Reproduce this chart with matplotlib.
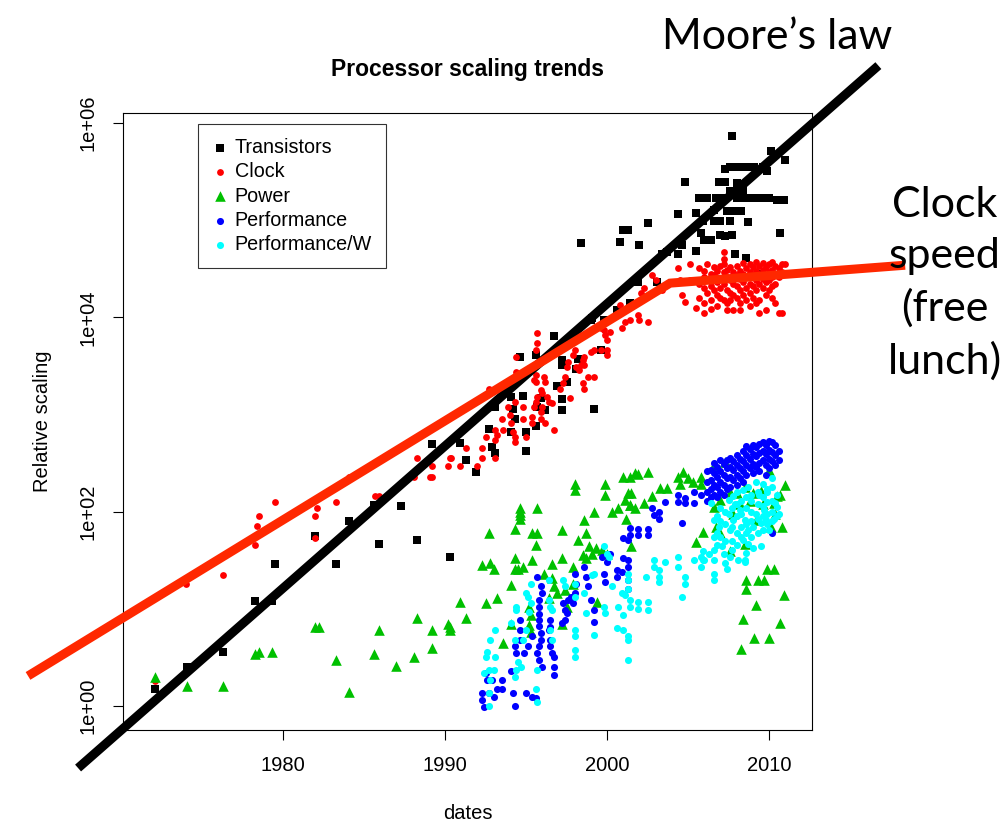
import numpy as np
import matplotlib
matplotlib.use("Agg")
import matplotlib.pyplot as plt
from matplotlib.ticker import FixedLocator, NullLocator

plt.rcParams['font.family'] = ['Liberation Sans', 'DejaVu Sans']

# (year, relative value) readings for each processor series
transistors = [
    (1972.1, 1.5), (1974.1, 2.5), (1976.3, 3.6), (1978.3, 12), (1979.3, 12),
    (1979.5, 29), (1982.0, 56), (1983.3, 29), (1984.1, 81), (1985.9, 46),
    (1985.6, 117), (1987.3, 114), (1988.3, 51), (1989.2, 500), (1990.3, 34),
    (1990.9, 510), (1991.3, 340), (1991.9, 256), (1992.7, 710), (1992.9, 465),
    (1993.1, 405), (1993.1, 1200), (1994.1, 1520), (1994.2, 1130), (1994.3, 910),
    (1994.1, 660), (1994.6, 3900), (1994.8, 1550), (1995.0, 660), (1995.0, 425),
    (1995.6, 760), (1995.7, 1200), (1995.6, 4100), (1995.9, 1470), (1996.2, 1110),
    (1996.7, 6400), (1996.9, 1950), (1997.2, 3600), (1997.2, 3200), (1997.2, 1460),
    (1997.2, 1110), (1997.5, 2180), (1998.2, 3770), (1998.1, 2970), (1999.0, 9300),
    (1999.2, 1130), (1999.6, 4600), (1999.8, 9300), (1998.4, 5.8e4), (1999.1, 9800),
    (1999.9, 9300), (2000.6, 1.2e4), (2001.4, 1.4e4), (2001.9, 2.3e4), (2003.1, 2.3e4),
    (2000.8, 6.0e4), (2001.0, 7.9e4), (2001.3, 7.9e4), (2002.0, 5.5e4), (2002.5, 9.4e4),
    (2003.4, 4.5e4), (2003.7, 4.7e4), (2004.4, 4.5e4), (2004.6, 5.5e4), (2004.4, 1.17e5),
    (2004.8, 2.5e5), (2005.5, 1.2e5), (2005.5, 4.8e4), (2005.8, 7.3e4), (2005.9, 9.8e4),
    (2006.0, 6.3e4), (2006.4, 6.2e4), (2006.6, 1.27e5), (2006.6, 9.8e4), (2007.0, 9.8e4),
    (2007.0, 7.0e4), (2007.3, 6.8e4), (2007.6, 9.8e4), (2007.7, 7.1e4), (2007.4, 1.24e5),
    (2007.8, 1.24e5), (2008.3, 1.24e5), (2008.7, 9.6e4), (2007.9, 4.5e4), (2008.6, 4.1e4),
    (2009.3, 2.8e4), (2010.7, 7.4e4), (2005.7, 1.7e5), (2006.2, 1.7e5), (2006.7, 1.7e5),
    (2007.2, 1.7e5), (2006.9, 2.5e5), (2007.3, 2.5e5), (2008.0, 2.4e5), (2007.6, 2.0e5),
    (2008.4, 2.0e5), (2008.0, 1.7e5), (2008.5, 1.7e5), (2009.0, 1.7e5), (2009.5, 1.7e5),
    (2010.0, 1.7e5), (2010.5, 1.6e5), (2010.9, 1.6e5), (2009.9, 3.2e5), (2007.3, 3.4e5),
    (2007.6, 3.5e5), (2008.1, 3.5e5), (2008.6, 3.5e5), (2009.1, 3.5e5), (2009.6, 3.5e5),
    (2007.7, 7.3e5), (2010.1, 5.1e5), (2011.0, 4.2e5),
]

clock = [
    (1972.1, 1.8), (1974.0, 18), (1976.3, 22.5), (1978.3, 45), (1978.4, 72),
    (1978.5, 90), (1979.3, 72), (1979.5, 125), (1982.0, 54), (1982.0, 90),
    (1982.1, 108), (1983.3, 125), (1984.1, 225), (1985.7, 145), (1985.9, 145),
    (1988.1, 225), (1988.3, 360), (1989.2, 296), (1989.2, 225), (1990.2, 296),
    (1990.4, 360), (1989.1, 225), (1990.3, 360), (1990.9, 296), (1991.3, 450),
    (1992.0, 296), (1992.3, 450), (1992.3, 360), (1992.5, 590), (1993.1, 690),
    (1993.2, 620), (1993.1, 550), (1993.1, 360), (1992.7, 1850), (1993.5, 890),
    (1993.6, 690), (1993.9, 1200), (1994.0, 1000), (1994.1, 810), (1994.2, 660),
    (1994.3, 590), (1994.3, 525), (1994.3, 1350), (1994.4, 2750), (1994.4, 3900),
    (1994.8, 1200), (1994.8, 910), (1995.0, 590), (1995.4, 950), (1995.4, 810),
    (1995.5, 1200), (1995.6, 1350), (1995.7, 1520), (1995.6, 2180), (1995.5, 2250),
    (1995.6, 2570), (1995.6, 4600), (1995.7, 5400), (1995.7, 6900), (1995.9, 1780),
    (1996.0, 1660), (1996.0, 1200), (1995.9, 1070), (1995.9, 910), (1996.1, 2450),
    (1996.2, 2180), (1996.3, 1520), (1996.4, 1350), (1996.2, 810), (1996.7, 690),
    (1996.6, 1300), (1997.1, 1850), (1997.3, 2100), (1997.4, 2450), (1997.5, 3100),
    (1997.6, 3500), (1997.7, 1470), (1997.9, 4100), (1998.0, 4600), (1998.1, 3100),
    (1998.3, 2880), (1998.4, 3240), (1998.5, 3630), (1998.6, 3900), (1998.6, 3240),
    (1998.5, 2100), (1998.6, 1820), (1998.8, 2450), (1999.2, 2450), (1999.0, 4400),
    (1999.2, 4600), (1999.6, 4600), (1999.8, 7400), (1999.9, 6600), (2000.0, 5900),
    (2000.0, 4600), (2000.0, 4100), (1999.6, 7700), (2000.2, 7100), (2000.9, 7700),
    (2001.1, 8900), (2001.4, 9300), (2001.9, 1.05e4), (2002.0, 9300), (2002.5, 8900),
    (2000.8, 1.35e4), (2001.6, 1.38e4), (2002.1, 1.8e4), (2002.3, 2.0e4), (2002.8, 2.7e4),
    (2003.0, 2.4e4), (2003.4, 1.9e4), (2004.4, 3.2e4), (2004.5, 2.4e4), (2004.6, 1.7e4),
    (2004.8, 1.45e4), (2005.1, 3.5e4), (2005.1, 2.4e4), (2005.5, 1.26e4), (2006.0, 1.1e4),
    (2006.4, 1.23e4),
    (2005.7, 3.2e4), (2005.7, 2.2e4), (2005.7, 1.6e4),
    (2006.0, 3.0e4), (2006.0, 2.6e4), (2006.0, 2.0e4), (2006.0, 1.4e4),
    (2006.2, 3.5e4), (2006.2, 2.4e4), (2006.2, 1.8e4),
    (2006.4, 2.8e4), (2006.4, 2.1e4), (2006.4, 1.5e4),
    (2006.6, 3.3e4), (2006.6, 2.7e4), (2006.6, 1.9e4),
    (2006.8, 3.0e4), (2006.8, 2.3e4), (2006.8, 1.7e4), (2006.8, 1.3e4),
    (2007.0, 3.4e4), (2007.0, 2.5e4), (2007.0, 2.0e4), (2007.0, 1.6e4),
    (2007.2, 4.7e4), (2007.2, 4.0e4), (2007.2, 3.5e4), (2007.2, 2.9e4), (2007.2, 2.2e4), (2007.2, 1.5e4),
    (2007.4, 3.1e4), (2007.4, 2.6e4), (2007.4, 1.9e4), (2007.4, 1.4e4), (2007.4, 1.2e4),
    (2007.6, 3.3e4), (2007.6, 2.4e4), (2007.6, 1.8e4), (2007.6, 1.5e4),
    (2007.8, 2.9e4), (2007.8, 2.2e4), (2007.8, 1.7e4), (2007.8, 1.2e4),
    (2008.0, 3.4e4), (2008.0, 2.7e4), (2008.0, 2.1e4), (2008.0, 1.6e4),
    (2008.2, 3.0e4), (2008.2, 2.5e4), (2008.2, 1.9e4), (2008.2, 1.4e4), (2008.2, 1.2e4),
    (2008.4, 3.6e4), (2008.4, 2.8e4), (2008.4, 2.3e4), (2008.4, 1.7e4),
    (2008.6, 3.2e4), (2008.6, 2.6e4), (2008.6, 2.0e4), (2008.6, 1.5e4),
    (2008.8, 3.5e4), (2008.8, 2.9e4), (2008.8, 2.2e4), (2008.8, 1.8e4), (2008.8, 1.3e4),
    (2009.0, 3.3e4), (2009.0, 2.7e4), (2009.0, 2.1e4), (2009.0, 1.6e4),
    (2009.2, 3.7e4), (2009.2, 3.0e4), (2009.2, 2.4e4), (2009.2, 1.9e4), (2009.2, 1.4e4),
    (2009.4, 3.4e4), (2009.4, 2.8e4), (2009.4, 2.2e4), (2009.4, 1.5e4), (2009.4, 1.1e4),
    (2009.6, 3.6e4), (2009.6, 3.1e4), (2009.6, 2.5e4), (2009.6, 2.0e4),
    (2009.8, 3.3e4), (2009.8, 2.7e4), (2009.8, 2.3e4), (2009.8, 1.7e4), (2009.8, 1.2e4),
    (2010.0, 3.5e4), (2010.0, 2.9e4), (2010.0, 2.4e4), (2010.0, 1.9e4),
    (2010.2, 3.7e4), (2010.2, 3.1e4), (2010.2, 2.6e4), (2010.2, 2.1e4), (2010.2, 1.6e4),
    (2010.4, 3.4e4), (2010.4, 2.8e4), (2010.4, 2.2e4), (2010.4, 1.4e4),
    (2010.6, 3.2e4), (2010.6, 2.6e4), (2010.6, 1.1e4),
    (2010.8, 3.5e4), (2010.8, 2.9e4), (2010.8, 1.1e4), (2011.0, 3.5e4),
]

power = [
    (1972.1, 2.0), (1974.1, 1.6), (1976.3, 1.6), (1978.3, 3.4), (1978.5, 3.6),
    (1979.3, 3.6), (1982.0, 6.5), (1982.2, 6.5), (1983.3, 3.0), (1984.1, 1.4),
    (1985.6, 3.4), (1985.9, 6.0), (1987.0, 2.6), (1988.1, 3.2), (1988.3, 8.0),
    (1989.2, 6.0), (1989.2, 4.0), (1990.2, 7.0), (1990.3, 6.0), (1990.3, 6.5),
    (1990.9, 11.8), (1991.3, 8.0), (1992.3, 28), (1992.8, 29.5), (1993.0, 26),
    (1992.5, 11.4), (1993.2, 12.8), (1992.7, 60), (1994.1, 7.0), (1993.6, 4.4),
    (1994.1, 17.6), (1994.3, 26), (1994.3, 33), (1994.3, 66), (1994.6, 108),
    (1994.6, 100), (1994.6, 92), (1994.6, 85), (1995.7, 108), (1995.4, 60),
    (1995.7, 60), (1995.6, 45), (1994.8, 27), (1995.4, 32), (1994.5, 26),
    (1996.1, 23), (1995.2, 10.5), (1995.3, 8.7), (1995.2, 6.8), (1995.3, 5.8),
    (1996.4, 13), (1996.7, 17), (1996.6, 21), (1997.2, 65), (1996.6, 29),
    (1997.2, 33), (1996.9, 14.5), (1997.4, 15.6), (1997.5, 10.5), (1997.2, 7.0),
    (1998.0, 195), (1998.0, 167), (1997.9, 27), (1997.9, 18), (1998.2, 51),
    (1998.6, 82), (1998.7, 60), (1998.5, 36), (1998.7, 33), (1999.2, 100),
    (1998.9, 44), (1999.3, 42), (1999.1, 37), (1999.4, 11.8), (1999.9, 195),
    (1999.9, 148), (1999.7, 40), (2000.0, 37), (2000.3, 100), (2000.7, 108),
    (2001.1, 132), (2001.4, 117), (2001.3, 155), (2001.4, 230), (2001.0, 230),
    (2001.7, 250), (2001.2, 85), (2001.5, 44), (2001.9, 245), (2002.5, 257),
    (2001.5, 155), (2002.3, 122), (2002.8, 144), (2003.3, 175), (2003.7, 175),
    (2001.4, 117), (2001.7, 108), (2004.4, 230), (2004.7, 257), (2004.5, 195),
    (2005.0, 220), (2005.3, 204), (2005.8, 230), (2005.8, 195), (2006.6, 300),
    (2007.3, 325), (2007.0, 132), (2006.6, 112), (2007.6, 160), (2008.0, 155),
    (2008.5, 180), (2009.0, 155), (2009.5, 165), (2010.0, 270), (2010.5, 144),
    (2011.0, 188), (2010.3, 122), (2010.7, 148), (2005.5, 49), (2005.9, 62),
    (2006.7, 70), (2007.0, 60), (2007.6, 39), (2008.5, 47), (2009.2, 82),
    (2010.1, 70), (2010.8, 70), (2009.9, 26), (2010.3, 26), (2008.6, 20),
    (2009.3, 20), (2009.7, 20), (2008.6, 16), (2010.9, 13.8), (2009.2, 11),
    (2008.4, 7.9), (2010.7, 7.2), (2009.1, 5.0), (2010.0, 5.0), (2008.3, 3.9),
    (2008.2, 120), (2008.8, 130), (2009.6, 120), (2010.4, 95), (2007.8, 95),
]

performance = [
    (1992.4, 0.98), (1992.3, 1.35), (1992.3, 1.15), (1992.5, 2.2), (1992.6, 1.85),
    (1992.9, 1.85), (1993.0, 1.25), (1993.2, 1.5), (1993.5, 1.85), (1993.5, 1.5),
    (1992.7, 1.35), (1994.1, 2.3), (1994.2, 1.35), (1994.3, 1.0), (1994.4, 3.5),
    (1994.3, 4.1), (1994.6, 4.8), (1994.6, 6.0), (1994.6, 7.7), (1994.9, 3.5),
    (1995.1, 4.1), (1995.4, 5.2), (1995.0, 1.35), (1995.4, 1.25), (1995.6, 1.2),
    (1995.8, 12.3), (1995.8, 10.5), (1995.8, 8.9), (1995.8, 7.7), (1995.8, 6.6),
    (1995.9, 5.6), (1995.9, 4.8), (1995.8, 4.1), (1995.7, 3.5), (1995.8, 3.0),
    (1996.0, 2.5), (1995.7, 21.5), (1995.9, 17), (1996.0, 14.5), (1996.4, 6.0),
    (1996.5, 4.8), (1996.5, 4.1), (1996.6, 3.5), (1996.5, 6.5), (1996.5, 7.7),
    (1996.7, 3.2), (1996.7, 2.5), (1996.7, 2.1), (1997.3, 11.4), (1997.4, 9.8),
    (1997.5, 9.0), (1997.6, 12.3), (1997.8, 13.3), (1997.9, 11.4), (1997.2, 7.1),
    (1997.4, 7.7), (1998.0, 23), (1998.1, 18), (1998.0, 14.5), (1998.6, 27),
    (1998.7, 21.5), (1998.8, 17), (1999.0, 12.3), (1999.2, 9.8), (1999.2, 7.4),
    (1999.7, 34.5), (1999.8, 23), (1999.9, 19), (2000.0, 30), (2000.2, 37),
    (2000.6, 25), (2000.6, 21.5), (2001.0, 33), (2000.9, 24), (2001.0, 53),
    (2001.3, 51), (2001.4, 68), (2001.4, 58), (2001.3, 32), (2001.3, 27),
    (2001.3, 20), (2001.3, 16), (2002.8, 108), (2003.2, 100), (2003.2, 85),
    (2002.9, 93), (2001.9, 67), (2002.5, 67), (2001.9, 57), (2002.5, 57),
    (2003.6, 126), (2004.4, 148), (2004.4, 126), (2004.8, 138), (2004.8, 122),
    (2004.6, 77), (2005.4, 160), (2005.4, 122), (2005.8, 148), (2010.2, 61),
    (2006.2, 260), (2006.2, 200), (2006.2, 160), (2006.2, 130),
    (2006.4, 270), (2006.4, 210), (2006.4, 170), (2006.4, 140),
    (2006.6, 320), (2006.6, 250), (2006.6, 190), (2006.6, 150),
    (2006.8, 290), (2006.8, 230), (2006.8, 180), (2006.8, 140),
    (2007.0, 340), (2007.0, 260), (2007.0, 200), (2007.0, 160),
    (2007.2, 310), (2007.2, 240), (2007.2, 190), (2007.2, 150),
    (2007.4, 340), (2007.4, 280), (2007.4, 220), (2007.4, 170),
    (2007.6, 360), (2007.6, 290), (2007.6, 230), (2007.6, 180),
    (2007.8, 330), (2007.8, 270), (2007.8, 210),
    (2008.0, 380), (2008.0, 300), (2008.0, 240), (2008.0, 190),
    (2008.2, 350), (2008.2, 280), (2008.2, 220),
    (2008.4, 420), (2008.4, 330), (2008.4, 260), (2008.4, 200),
    (2008.6, 470), (2008.6, 380), (2008.6, 300), (2008.6, 240),
    (2008.8, 440), (2008.8, 350), (2008.8, 280),
    (2009.0, 480), (2009.0, 390), (2009.0, 310), (2009.0, 250),
    (2009.2, 460), (2009.2, 370), (2009.2, 290),
    (2009.4, 500), (2009.4, 400), (2009.4, 320), (2009.4, 260),
    (2009.6, 520), (2009.6, 420), (2009.6, 340),
    (2009.8, 490), (2009.8, 390), (2009.8, 300), (2009.8, 240),
    (2010.0, 540), (2010.0, 430), (2010.0, 350), (2010.0, 280),
    (2010.2, 520), (2010.2, 410), (2010.2, 330),
    (2010.4, 480), (2010.4, 380), (2010.4, 300),
    (2010.6, 420), (2010.6, 340),
]

perf_per_watt = [
    (1992.4, 2.2), (1992.5, 3.2), (1992.6, 3.6), (1992.7, 2.35), (1992.8, 1.85),
    (1992.7, 1.35), (1992.7, 1.0), (1992.8, 4.8), (1993.1, 6.0), (1993.1, 3.2),
    (1993.0, 2.35), (1994.1, 7.1), (1994.3, 4.8), (1994.5, 2.85), (1994.4, 2.35),
    (1994.3, 2.0), (1994.7, 2.5), (1995.7, 2.35), (1995.6, 1.5), (1995.7, 1.1),
    (1995.0, 6.0), (1995.2, 9.3), (1995.3, 18), (1995.3, 11.4), (1995.0, 14.5),
    (1995.1, 13.3), (1994.4, 10.5), (1994.4, 9.8), (1994.8, 4.8), (1996.4, 20),
    (1996.4, 12.3), (1996.5, 10.5), (1996.6, 9.8), (1996.5, 6.0), (1996.6, 4.8),
    (1997.3, 20), (1997.4, 17), (1998.0, 18), (1998.0, 13.3), (1998.0, 6.0),
    (1998.0, 5.2), (1998.0, 3.8), (1998.0, 3.2), (1998.6, 14.5), (1998.7, 9.0),
    (1999.2, 5.4), (1999.2, 23), (1999.8, 44), (2000.0, 37), (2000.1, 34.5),
    (1999.1, 22.5), (1999.8, 10.5), (1999.9, 9.0), (2000.3, 17), (2000.6, 6.3),
    (2001.0, 6.0), (2000.7, 10.5), (2000.9, 14.5), (2001.1, 13.8), (2001.0, 8.7),
    (2001.3, 23), (2001.3, 20), (2001.3, 16), (2001.3, 5.2), (2001.3, 4.8),
    (2001.3, 3.0), (2001.4, 10.5), (2001.4, 12.3), (2001.9, 11.8), (2001.9, 10),
    (2002.5, 11.8), (2002.5, 9.8), (2002.4, 21.5), (2002.9, 32), (2002.9, 27),
    (2003.2, 25), (2003.2, 21.5), (2003.2, 19), (2003.6, 30), (2004.4, 34.5),
    (2004.4, 27), (2004.8, 21.5), (2004.8, 18), (2004.6, 13.3), (2005.4, 32),
    (2005.8, 34.5), (2005.8, 27), (2006.0, 32), (2006.6, 82), (2006.6, 55),
    (2006.6, 40), (2006.6, 32), (2006.6, 23), (2006.6, 20), (2005.9, 39),
    (2005.9, 32), (2006.3, 37), (2006.4, 122), (2006.9, 70), (2007.0, 55),
    (2007.1, 44), (2007.2, 37), (2007.3, 29.5), (2007.4, 26), (2007.5, 132),
    (2007.8, 144), (2008.0, 160), (2008.4, 167), (2008.7, 180), (2009.2, 204),
    (2009.6, 195), (2010.2, 220), (2007.5, 95), (2007.6, 65), (2007.8, 82),
    (2008.2, 105), (2008.5, 82), (2008.7, 65), (2009.0, 70), (2009.2, 95),
    (2009.5, 76), (2009.7, 105), (2009.8, 82), (2008.4, 51), (2008.7, 47),
    (2009.0, 42), (2009.5, 44), (2010.0, 65), (2010.4, 122), (2010.5, 112),
    (2007.6, 34.5), (2008.1, 32), (2008.5, 32), (2008.5, 30), (2007.9, 120),
    (2008.9, 130), (2009.4, 150), (2009.9, 160), (2010.6, 95), (2010.3, 85),
    (2006.8, 90), (2006.8, 60), (2006.8, 45), (2007.0, 110), (2007.0, 80),
    (2007.3, 100), (2007.3, 75), (2007.3, 50), (2007.7, 110), (2007.7, 70),
    (2007.7, 50), (2007.7, 40), (2008.0, 120), (2008.0, 90), (2008.0, 60),
    (2008.0, 45), (2008.3, 130), (2008.3, 95), (2008.3, 70), (2008.3, 55),
    (2008.6, 140), (2008.6, 110), (2008.6, 75), (2008.6, 60), (2008.6, 38),
    (2008.9, 150), (2008.9, 100), (2008.9, 80), (2008.9, 55), (2009.3, 160),
    (2009.3, 120), (2009.3, 85), (2009.3, 60), (2009.6, 140), (2009.6, 115),
    (2009.6, 90), (2009.6, 65), (2009.9, 170), (2009.9, 125), (2009.9, 95),
    (2009.9, 75), (2010.2, 180), (2010.2, 130), (2010.2, 100), (2010.2, 80),
    (2010.5, 150), (2010.5, 90),
]

# thick trend lines laid over the scatter (year, relative value)
moore_year = [1967.35, 2016.75]
moore_level = [0.23, 3.9e6]
clock_trend_year = [1964.26, 2003.89, 2018.4]
clock_trend_level = [2.04, 2.25e4, 3.44e4]

series = [
    ("Transistors", transistors, "s", "black", 32),
    ("Clock", clock, "o", "#ff0000", 24),
    ("Power", power, "^", "#00c000", 58),
    ("Performance", performance, "o", "#0000ff", 26),
    ("Performance/W", perf_per_watt, "o", "#00ffff", 26),
]

fig = plt.figure(figsize=(10.07, 8.22), dpi=100)
ax = fig.add_axes([0.1221, 0.1119, 0.6842, 0.7506])

for name, pts, marker, color, size in series:
    arr = np.array(pts)
    ax.scatter(arr[:, 0], arr[:, 1], marker=marker, s=size, c=color,
               linewidths=0, label=name, zorder=2)

ax.plot(moore_year, moore_level, color="black", lw=6.5,
        solid_capstyle="butt", clip_on=False, zorder=5)
ax.plot(clock_trend_year, clock_trend_level, color="#ff2800", lw=6.5,
        solid_capstyle="butt", solid_joinstyle="miter", clip_on=False, zorder=5)

ax.set_yscale("log")
ax.set_xlim(1970.12, 2012.65)
ax.set_ylim(10 ** -0.247, 10 ** 6.103)

ax.xaxis.set_major_locator(FixedLocator([1980, 1990, 2000, 2010]))
ax.yaxis.set_major_locator(FixedLocator([1, 1e2, 1e4, 1e6]))
ax.yaxis.set_minor_locator(NullLocator())
ax.set_yticklabels(["1e+00", "1e+02", "1e+04", "1e+06"], rotation=90, va="center")
ax.tick_params(direction="out", length=7.5, width=0.8, labelsize=14.5, pad=11)
for sp in ax.spines.values():
    sp.set_linewidth(0.8)

ax.set_title("Processor scaling trends", fontsize=16.5, fontweight="bold", pad=27)
ax.set_xlabel("dates", fontsize=14.5, labelpad=21)
ax.set_ylabel("Relative scaling", fontsize=14.5, labelpad=19)

leg = ax.legend(loc="upper left", bbox_to_anchor=(0.109, 0.982), borderaxespad=0,
                fontsize=14.2, frameon=True, fancybox=False, edgecolor="black",
                scatterpoints=1, handlelength=0.8, handletextpad=0.35,
                labelspacing=0.27, borderpad=0.7)
leg.get_frame().set_linewidth(0.8)

fig.text(0.7716, 0.955, "Moore\u2019s law", fontsize=31, family="Lato",
         ha="center", va="center")
fig.text(0.938, 0.655, "Clock\nspeed\n(free\nlunch)", fontsize=31, family="Lato",
         ha="center", va="center", multialignment="center", linespacing=1.42)

fig.savefig("out.png", dpi=100)
